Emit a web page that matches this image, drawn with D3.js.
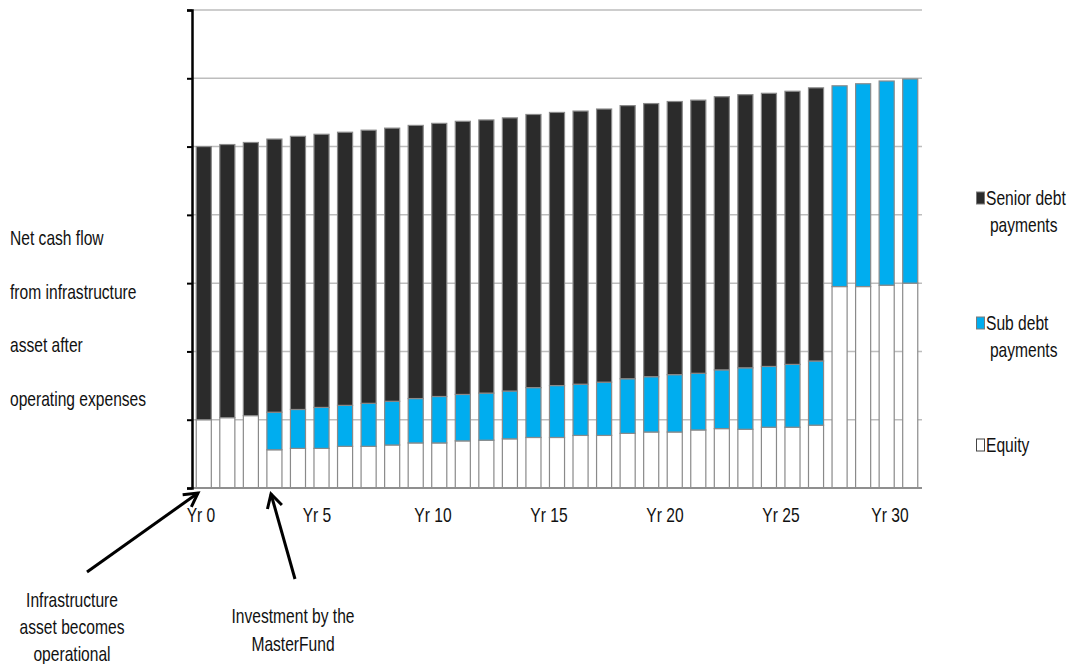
<!DOCTYPE html>
<html lang="en">
<head>
<meta charset="utf-8" />
<title>Net cash flow - stacked bars</title>
<script src="https://d3js.org/d3.v7.min.js"></script>
<style>
  body { margin: 0; background: #fff; }
  svg text { font-family: "Liberation Sans", Arial, sans-serif; fill: #111; }
</style>
</head>
<body>
<div id="chart"></div>
<script>
var width = 1070;
var height = 664;

// categories (years)
var years = [0, 1, 2, 3, 4, 5, 6, 7, 8, 9, 10, 11, 12, 13, 14, 15,
             16, 17, 18, 19, 20, 21, 22, 23, 24, 25, 26, 27, 28, 29, 30];
var tickYears = [0, 5, 10, 15, 20, 25, 30];

// series values (units of one gridline step)
var equity = [1.00, 1.03, 1.06, 0.56, 0.58, 0.58, 0.61, 0.61, 0.63, 0.66, 0.66,
              0.69, 0.70, 0.72, 0.74, 0.74, 0.77, 0.77, 0.80, 0.82, 0.82,
              0.85, 0.87, 0.86, 0.89, 0.89, 0.92, 2.95, 2.95, 2.97, 3.00];
var subDebt = [0, 0, 0, 0.55, 0.57, 0.60, 0.60, 0.63, 0.64, 0.65, 0.68,
               0.68, 0.69, 0.70, 0.73, 0.76, 0.75, 0.78, 0.80, 0.81, 0.84,
               0.83, 0.86, 0.90, 0.89, 0.92, 0.94, 2.94, 2.97, 2.99, 2.99];
var seniorDebt = [4, 4, 4, 4, 4, 4, 4, 4, 4, 4, 4,
                  4, 4, 4, 4, 4, 4, 4, 4, 4, 4,
                  4, 4, 4, 4, 4, 4, 0, 0, 0, 0];

var seriesKeys = ["equity", "sub", "senior"];
var seriesColors = { equity: "#ffffff", sub: "#00adef", senior: "#2b2b2b" };

var leftText = ["Net cash flow", "from infrastructure", "asset after", "operating expenses"];
var legendItems = [
  { key: "senior", lines: ["Senior debt", "payments"] },
  { key: "sub", lines: ["Sub debt", "payments"] },
  { key: "equity", lines: ["Equity"] }
];
var note1 = ["Infrastructure", "asset  becomes", "operational"];
var note2 = ["Investment by the", "MasterFund"];

var rows = years.map(function(y, i) {
  return { year: y, equity: equity[i], sub: subDebt[i], senior: seniorDebt[i] };
});

var plotLeft = 192, plotRight = 922, plotTop = 10, plotBottom = 488;
var squeeze = 0.78;   // narrow look of the original font
var fontSize = 20;

function narrow(x, y) {
  return "translate(" + x + "," + y + ") scale(" + squeeze + ",1)";
}

var xScale = d3.scaleBand()
  .domain(years)
  .range([plotLeft, plotRight])
  .paddingInner(0.36)
  .paddingOuter(0.18);

// tick labels sit on a slightly tighter spacing than the bars
var labelScale = d3.scaleLinear()
  .domain([0, 30])
  .range([201, 897]);

var yScale = d3.scaleLinear()
  .domain([0, 7])
  .range([plotBottom, plotTop]);

var svg = d3.select("#chart")
  .append("svg")
  .attr("width", width)
  .attr("height", height);

svg.append("rect").attr("width", width).attr("height", height).attr("fill", "#fff");

// gridlines
svg.append("g")
  .selectAll("line")
  .data(yScale.ticks(7).filter(function(d) { return d > 0; }))
  .join("line")
  .attr("x1", plotLeft)
  .attr("x2", plotRight)
  .attr("y1", function(d) { return yScale(d); })
  .attr("y2", function(d) { return yScale(d); })
  .attr("stroke", "#bdbdbd")
  .attr("stroke-width", 1.5);

// stacked bars
var stack = d3.stack().keys(seriesKeys);
var layers = stack(rows);

svg.append("g")
  .selectAll("g")
  .data(layers)
  .join("g")
  .attr("fill", function(d) { return seriesColors[d.key]; })
  .selectAll("rect")
  .data(function(d) { return d.filter(function(p) { return p[1] - p[0] > 0; }); })
  .join("rect")
  .attr("x", function(d) { return xScale(d.data.year); })
  .attr("width", xScale.bandwidth())
  .attr("y", function(d) { return yScale(d[1]); })
  .attr("height", function(d) { return yScale(d[0]) - yScale(d[1]); })
  .attr("stroke", "#8a8a8a")
  .attr("stroke-width", 1.2);

// x axis line
svg.append("line")
  .attr("x1", plotLeft).attr("x2", plotRight)
  .attr("y1", plotBottom).attr("y2", plotBottom)
  .attr("stroke", "#8f8f8f")
  .attr("stroke-width", 2);

// y axis
var yAxis = d3.axisLeft(yScale).ticks(7).tickSize(5).tickFormat("");
var yG = svg.append("g")
  .attr("transform", "translate(" + plotLeft + ",0)")
  .call(yAxis);
yG.select(".domain").attr("stroke", "#000").attr("stroke-width", 2.5);
yG.selectAll(".tick line").attr("stroke", "#000").attr("stroke-width", 2);

// x tick labels
svg.append("g")
  .selectAll("text")
  .data(tickYears)
  .join("text")
  .attr("transform", function(d) {
    return narrow(d === 30 ? labelScale(d) - 7 : labelScale(d), 522);
  })
  .attr("text-anchor", "middle")
  .attr("font-size", fontSize)
  .text(function(d) { return "Yr " + d; });

// left description
svg.append("g")
  .selectAll("text")
  .data(leftText)
  .join("text")
  .attr("transform", function(d, i) { return narrow(10, 245 + i * 53.5); })
  .attr("font-size", fontSize)
  .text(function(d) { return d; });

// legend
var legendY = [205, 330, 452];
var legend = svg.append("g")
  .selectAll("g")
  .data(legendItems)
  .join("g")
  .attr("transform", function(d, i) { return "translate(976," + legendY[i] + ")"; });

legend.append("rect")
  .attr("x", 0.5)
  .attr("y", -13)
  .attr("width", 8)
  .attr("height", 12)
  .attr("fill", function(d) { return seriesColors[d.key]; })
  .attr("stroke", function(d) { return d.key === "equity" ? "#444" : "#7a7a7a"; })
  .attr("stroke-width", 1);

legend.selectAll("text")
  .data(function(d) { return d.lines; })
  .join("text")
  .attr("transform", function(d, i) { return narrow(10, i * 27); })
  .attr("dx", function(d, i) { return i === 0 ? 0 : 5; })
  .attr("font-size", fontSize)
  .text(function(d) { return d; });

// annotation arrows
var defs = svg.append("defs");
defs.append("marker")
  .attr("id", "arrow")
  .attr("viewBox", "0 0 12 12")
  .attr("refX", 10)
  .attr("refY", 6)
  .attr("markerWidth", 6)
  .attr("markerHeight", 6)
  .attr("markerUnits", "strokeWidth")
  .attr("orient", "auto")
  .append("path")
  .attr("d", "M1,1 L10,6 L1,11")
  .attr("fill", "none")
  .attr("stroke", "#000")
  .attr("stroke-width", 2);

svg.append("line")
  .attr("x1", 87).attr("y1", 572)
  .attr("x2", 198).attr("y2", 493)
  .attr("stroke", "#000").attr("stroke-width", 3)
  .attr("marker-end", "url(#arrow)");

svg.append("line")
  .attr("x1", 295).attr("y1", 579)
  .attr("x2", 271).attr("y2", 494)
  .attr("stroke", "#000").attr("stroke-width", 3)
  .attr("marker-end", "url(#arrow)");

// annotation texts
svg.append("g")
  .selectAll("text")
  .data(note1)
  .join("text")
  .attr("transform", function(d, i) { return narrow(72, 607 + i * 27); })
  .attr("text-anchor", "middle")
  .attr("font-size", fontSize)
  .text(function(d) { return d; });

svg.append("g")
  .selectAll("text")
  .data(note2)
  .join("text")
  .attr("transform", function(d, i) { return narrow(293, 623 + i * 28); })
  .attr("text-anchor", "middle")
  .attr("font-size", fontSize)
  .text(function(d) { return d; });
</script>
</body>
</html>
